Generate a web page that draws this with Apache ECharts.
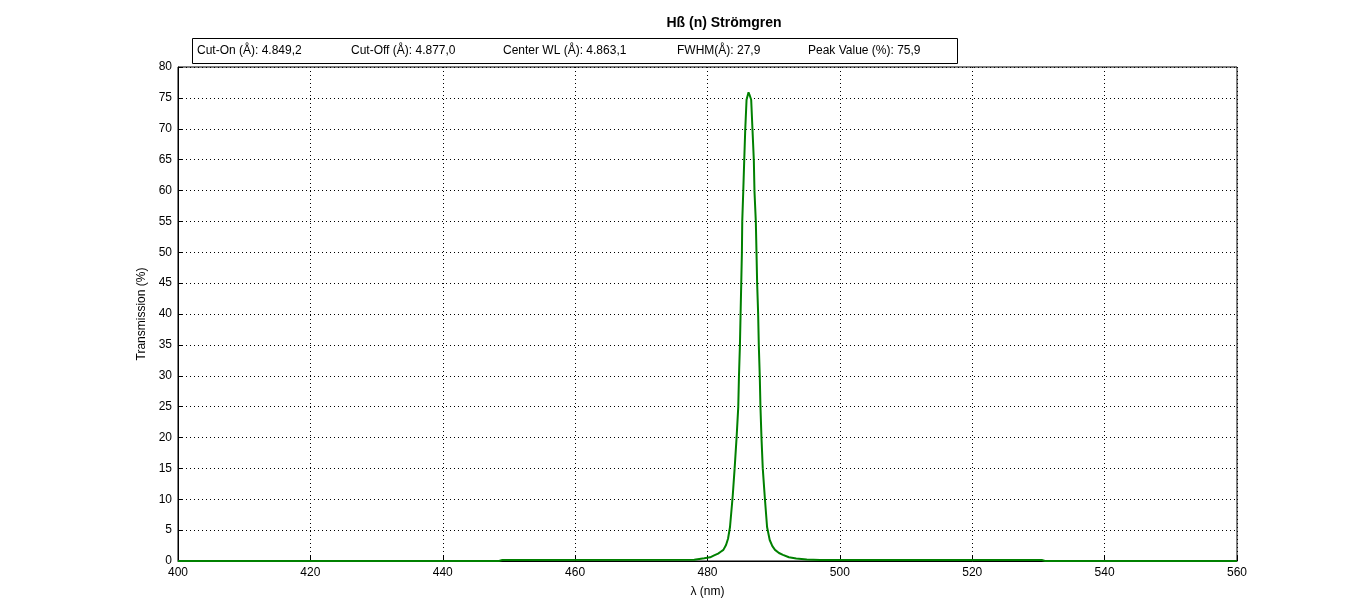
<!DOCTYPE html>
<html><head><meta charset="utf-8">
<script src="https://cdn.jsdelivr.net/npm/echarts@6/dist/echarts.min.js"></script>
<style>html,body{margin:0;padding:0;background:#fff}#c{width:1367px;height:605px}</style>
</head><body><div id="c"></div>
<script>
const titleText = 'Hß (n) Strömgren';
const infoLabels = ['Cut-On (Å): 4.849,2','Cut-Off (Å): 4.877,0','Center WL (Å): 4.863,1','FWHM(Å): 27,9','Peak Value (%): 75,9'];
const wavelength = [400,448.5,449,478,478.5,479.5,480.4,481,481.6,482,482.4,482.8,483.1,483.4,483.8,484.1,484.4,484.65,484.75,484.9,485.0,485.1,485.2,485.25,485.4,485.55,485.7,485.9,486.2,486.35,486.6,486.8,487.0,487.1,487.3,487.4,487.5,487.65,487.75,487.9,488.0,488.15,488.35,488.65,489.0,489.4,489.8,490.2,490.8,491.4,492.3,493.4,495,497,530.5,531,560];
const transmission = [0,0,0.15,0.2,0.3,0.45,0.6,0.9,1.2,1.5,1.8,2.6,3.6,5.5,10.4,15,20.1,25,29.8,35,40.1,45,50.1,55,59.8,64.9,69.8,74.7,75.9,75.5,74.7,69.8,64.9,59.8,55,50.1,45,40.1,35,29.8,25,20.1,15,10.4,5.5,3.4,2.4,1.8,1.3,1.0,0.6,0.4,0.25,0.15,0.15,0,0];
const infoX = [197,351,503,677,808];

const font = 'Liberation Sans, Arial, sans-serif';
const chart = echarts.init(document.getElementById('c'));
const elements = [
  {type:'rect', shape:{x:192.5,y:38.5,width:765,height:25}, style:{fill:'#fff',stroke:'#000',lineWidth:1}}
];
infoLabels.forEach((t,i)=>elements.push({type:'text', x:infoX[i], y:51, style:{text:t, fill:'#000', font:'12px '+font, textVerticalAlign:'middle'}}));
chart.setOption({
  animation:false,
  title:{text:titleText, left:719, top:11, textAlign:'center', textStyle:{fontFamily:font,fontSize:14,fontWeight:'bold',color:'#000'}},
  graphic:{elements},
  grid:{left:178,right:130,top:67,bottom:44,show:true,borderColor:'#000',borderWidth:1,backgroundColor:'transparent'},
  xAxis:{type:'value',min:400,max:560,interval:20,name:'λ (nm)',nameLocation:'middle',nameGap:25,
    nameTextStyle:{fontFamily:font,fontSize:12,color:'#000'},
    axisLine:{lineStyle:{color:'#000'}},axisTick:{inside:true,length:5,lineStyle:{color:'#000'}},
    axisLabel:{fontFamily:font,fontSize:12,color:'#000',margin:6},
    splitLine:{show:true,lineStyle:{color:'#000',type:[1,3],width:1}}},
  yAxis:{type:'value',min:0,max:80,interval:5,name:'Transmission (%)',nameLocation:'middle',nameGap:24,
    nameTextStyle:{fontFamily:font,fontSize:12,color:'#000'},
    axisLine:{show:true,lineStyle:{color:'#000'}},axisTick:{show:true,inside:true,length:5,lineStyle:{color:'#000'}},
    axisLabel:{fontFamily:font,fontSize:12,color:'#000',margin:6},
    splitLine:{show:true,lineStyle:{color:'#000',type:[1,3],width:1}}},
  series:[{type:'line',data:wavelength.map((w,i)=>[w,transmission[i]]),showSymbol:false,smooth:false,
    lineStyle:{color:'#008000',width:2},itemStyle:{color:'#008000'}}]
});
</script></body></html>
